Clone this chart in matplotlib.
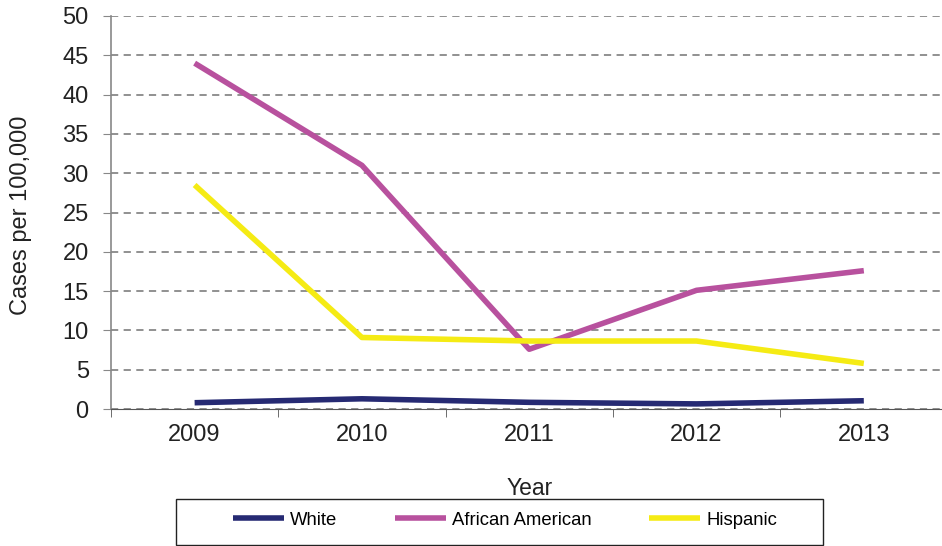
import matplotlib
matplotlib.use("Agg")
import matplotlib.pyplot as plt
from matplotlib.patches import Rectangle

years = ["2009", "2010", "2011", "2012", "2013"]
white = [0.8, 1.3, 0.85, 0.65, 1.05]
african_american = [44.0, 31.0, 7.6, 15.1, 17.6]
hispanic = [28.5, 9.1, 8.65, 8.65, 5.8]

plt.rcParams['font.family'] = ['Liberation Sans', 'DejaVu Sans']

fig = plt.figure(figsize=(9.42, 5.46), dpi=100)
ax = fig.add_axes([0.1178, 0.2509, 0.888, 0.7198])

x = range(len(years))
ax.plot(x, white, color='#262a73', lw=4, label='White', solid_capstyle='butt')
ax.plot(x, african_american, color='#b8519e', lw=4, label='African American', solid_capstyle='butt')
ax.plot(x, hispanic, color='#f5eb14', lw=4, label='Hispanic', solid_capstyle='butt')

ax.set_ylim(0, 50)
ax.set_xlim(-0.5, 4.5)
ax.set_yticks(range(0, 51, 5))
ax.set_xticks(x)
ax.set_xticklabels(years)
ax.set_xticks([i + 0.5 for i in range(-1, 5)], minor=True)
ax.tick_params(axis='x', which='major', length=0, pad=11, labelsize=17, labelcolor='#222222')
ax.tick_params(axis='x', which='minor', length=6, color='#555555')
ax.tick_params(axis='y', length=6, color='#888888', labelsize=17, pad=10, labelcolor='#222222')
ax.yaxis.grid(True, linestyle=(0, (4, 3)), color='#888888', lw=1.3)
ax.set_axisbelow(True)
for s in ['top', 'right']:
    ax.spines[s].set_visible(False)
ax.spines['left'].set_color('#888888')
ax.spines['bottom'].set_color('#555555')
ax.spines['left'].set_linewidth(1.2)

fig.text(0.022, 0.606, "Cases per 100,000", fontsize=17, rotation=90,
         ha='center', va='center', color='#222222')
fig.text(0.5625, 0.0934, "Year", fontsize=16.5, ha='center', va='baseline', color='#222222')

# legend box drawn by hand, legend itself frameless
fig.patches.append(Rectangle((0.1868, 0.0018), 0.6868, 0.0842, transform=fig.transFigure,
                             fill=False, edgecolor='#222222', lw=1.0))
leg = fig.legend(loc='center left', bbox_to_anchor=(0.2473, 0.0476), ncol=3,
                 fontsize=13.3, frameon=False, handlelength=2.76,
                 columnspacing=3.1, borderpad=0, borderaxespad=0, handletextpad=0.35)

fig.savefig("out.png", dpi=100)
